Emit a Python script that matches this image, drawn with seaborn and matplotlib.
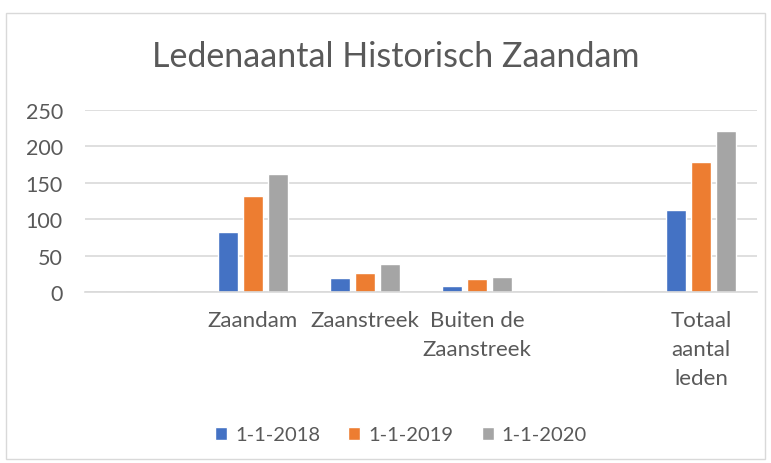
import matplotlib
matplotlib.use("Agg")
import matplotlib.pyplot as plt
import seaborn as sns
import pandas as pd
from matplotlib.patches import Rectangle

categories = ["", "Zaandam", "Zaanstreek", "Buiten de\nZaanstreek", " ", "Totaal\naantal\nleden"]
series = ["1-1-2018", "1-1-2019", "1-1-2020"]
v2018 = [0, 82, 19, 8, 0, 112]
v2019 = [0, 132, 26, 18, 0, 178]
v2020 = [0, 162, 38, 21, 0, 221]
colors = ["#4472C4", "#ED7D31", "#A5A5A5"]

rows = []
for s, vals in zip(series, [v2018, v2019, v2020]):
    for c, v in zip(categories, vals):
        rows.append({"cat": c, "serie": s, "val": v})
df = pd.DataFrame(rows)

sns.set_theme(style="white")
plt.rcParams["font.family"] = ["Lato", "DejaVu Sans"]
txt = "#595959"

fig = plt.figure(figsize=(7.71, 4.64), dpi=100)
ax = fig.add_axes([85/771, 1-293/464, 672/771, 182/464])
sns.barplot(data=df, x="cat", y="val", hue="serie", order=categories,
            hue_order=series, palette=colors, width=0.67, gap=0.2,
            saturation=1, ax=ax, legend=True)
ax.set_ylim(0, 250)
ax.set_xlim(-0.5, 5.5)
ax.set_yticks([0, 50, 100, 150, 200, 250])
ax.yaxis.grid(True, color="#D9D9D9", linewidth=1.2)
ax.set_axisbelow(True)
for s in ["top", "right", "left"]:
    ax.spines[s].set_visible(False)
ax.spines["bottom"].set_color("#D9D9D9")
ax.spines["bottom"].set_linewidth(1.2)
ax.set_xlabel("")
ax.set_ylabel("")
ax.tick_params(axis="y", length=0, labelsize=15.5, labelcolor=txt, pad=16)
ax.tick_params(axis="x", length=0, labelsize=16, labelcolor=txt, pad=13)
for lbl in ax.get_xticklabels():
    lbl.set_verticalalignment("top")
    lbl.set_linespacing(1.55)

h, l = ax.get_legend_handles_labels()
ax.get_legend().remove()
fig.legend(h, l, loc="center", bbox_to_anchor=(401/771, 1-436/464), ncol=3,
           frameon=False, fontsize=14.5, labelcolor=txt, handlelength=0.6,
           handleheight=0.6, handletextpad=0.4, columnspacing=1.4)

fig.text(396/771, 1-57/464, "Ledenaantal Historisch Zaandam", ha="center",
         va="center", fontsize=24.5, color=txt)

fig.patches.append(Rectangle((6/771, 1-460/464), 759/771, 446/464,
                             transform=fig.transFigure, fill=False,
                             edgecolor="#D9D9D9", linewidth=1))

fig.savefig("out.png", dpi=100)
